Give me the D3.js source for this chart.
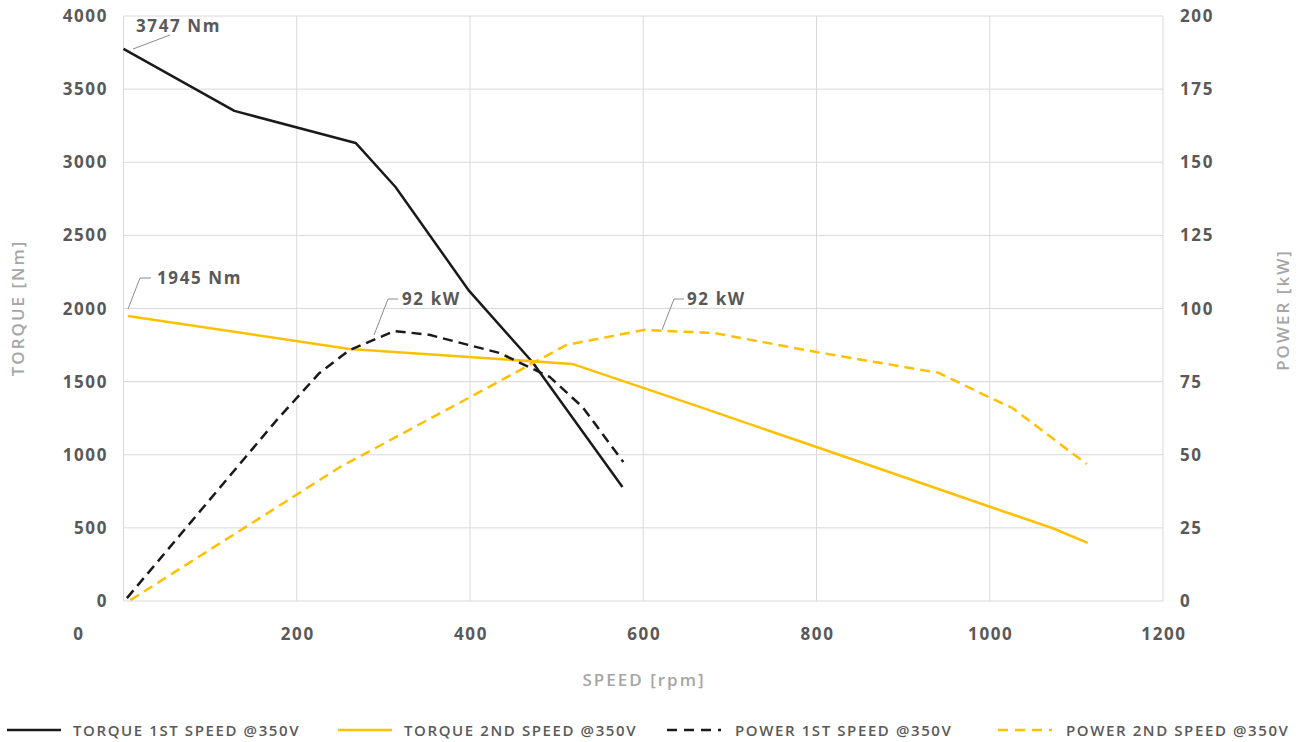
<!DOCTYPE html>
<html>
<head>
<meta charset="utf-8">
<script src="https://cdn.jsdelivr.net/npm/d3@7"></script>
<style>
  body { margin: 0; background: #fff; }
  text { font-family: "Open Sans", sans-serif; }
</style>
</head>
<body>
<div id="chart"></div>
<script>
// speed [rpm] / torque [Nm]
var torque1Speed = [0, 128, 268, 314, 399, 472, 576];
var torque1Value = [3775, 3351, 3132, 2831, 2120, 1634, 780];

var torque2Speed = [5, 261, 518, 665, 800, 1001, 1072, 1113];
var torque2Value = [1949, 1723, 1621, 1327, 1053, 643, 499, 397];

// speed [rpm] / power [kW]
var power1Speed = [4, 177, 226, 261, 313, 353, 434, 492, 530, 577];
var power1Value = [1, 61.9, 77.9, 85.8, 92.3, 91, 84.8, 76.6, 66.3, 47.5];

var power2Speed = [8, 250, 400, 511, 601, 682, 800, 941, 1001, 1026, 1112];
var power2Value = [0.3, 45.8, 69.7, 87.5, 92.7, 91.6, 85.1, 78, 69.4, 66, 46.8];

var speedTicks = [0, 200, 400, 600, 800, 1000, 1200];
var torqueTicks = [0, 500, 1000, 1500, 2000, 2500, 3000, 3500, 4000];
var powerTicks = [0, 25, 50, 75, 100, 125, 150, 175, 200];

var legendLabels = ["TORQUE 1ST SPEED @350V", "TORQUE 2ND SPEED @350V",
                    "POWER 1ST SPEED @350V", "POWER 2ND SPEED @350V"];

var W = 1305, H = 742;
var pLeft = 123.5, pRight = 1163, pTop = 16, pBottom = 601;
var BLACK = "#1a1a1a", ORANGE = "#ffc000", TICK = "#595959", TITLE = "#a6a6a6", GRID = "#d9d9d9";

var svg = d3.select("#chart").append("svg").attr("width", W).attr("height", H);

var x = d3.scaleLinear().domain([0, 1200]).range([pLeft, pRight]);
var yT = d3.scaleLinear().domain([0, 4000]).range([pBottom, pTop]);
var yP = d3.scaleLinear().domain([0, 200]).range([pBottom, pTop]);

// grid
svg.append("g").selectAll("line").data(torqueTicks).enter().append("line")
    .attr("x1", pLeft).attr("x2", pRight)
    .attr("y1", function(d){ return yT(d); }).attr("y2", function(d){ return yT(d); })
    .attr("stroke", GRID).attr("stroke-width", 1);
svg.append("g").selectAll("line").data(speedTicks).enter().append("line")
    .attr("x1", function(d){ return x(d); }).attr("x2", function(d){ return x(d); })
    .attr("y1", pTop).attr("y2", pBottom)
    .attr("stroke", GRID).attr("stroke-width", 1);

// tick labels
function tickText(sel){
  sel.attr("font-size", "17px").attr("font-weight", 700)
     .attr("letter-spacing", "1.6px").attr("fill", TICK);
}
svg.append("g").selectAll("text").data(torqueTicks).enter().append("text")
    .attr("x", 108).attr("y", function(d){ return yT(d) + 6; })
    .attr("text-anchor", "end").call(tickText)
    .text(function(d){ return d; });
svg.append("g").selectAll("text").data(powerTicks).enter().append("text")
    .attr("x", 1180).attr("y", function(d){ return yP(d) + 6; })
    .attr("text-anchor", "start").call(tickText)
    .text(function(d){ return d; });
svg.append("g").selectAll("text").data(speedTicks).enter().append("text")
    .attr("x", function(d){ return d === 0 ? 79 : x(d) + 1; }).attr("y", 640)
    .attr("text-anchor", "middle").call(tickText)
    .text(function(d){ return d; });

// axis titles
function titleText(sel){
  sel.attr("text-anchor", "middle").attr("font-size", "17px").attr("font-weight", 600)
     .attr("letter-spacing", "2px").attr("fill", TITLE);
}
svg.append("text").attr("transform", "translate(24,308) rotate(-90)")
    .call(titleText).text("TORQUE [Nm]");
svg.append("text").attr("transform", "translate(1289,310) rotate(-90)")
    .call(titleText).text("POWER [kW]");
svg.append("text").attr("x", 644).attr("y", 686)
    .call(titleText).text("SPEED [rpm]");

// series
function pairs(xs, ys){ return xs.map(function(v, i){ return [v, ys[i]]; }); }
var series = [
  { pts: pairs(torque1Speed, torque1Value), y: yT, color: BLACK, dash: null },
  { pts: pairs(torque2Speed, torque2Value), y: yT, color: ORANGE, dash: null },
  { pts: pairs(power1Speed, power1Value), y: yP, color: BLACK, dash: "10,6" },
  { pts: pairs(power2Speed, power2Value), y: yP, color: ORANGE, dash: "10,6" }
];

series.forEach(function(s){
  var line = d3.line()
      .x(function(d){ return x(d[0]); })
      .y(function(d){ return s.y(d[1]); });
  svg.append("path").datum(s.pts)
      .attr("d", line)
      .attr("fill", "none")
      .attr("stroke", s.color)
      .attr("stroke-width", 2.5)
      .attr("stroke-linejoin", "round")
      .attr("stroke-dasharray", s.dash);
});

// callouts
var callouts = [
  { pts: [[133, 49], [170, 35]], label: "3747 Nm", tx: 136, ty: 32 },
  { pts: [[128, 309], [140, 278], [151, 278]], label: "1945 Nm", tx: 157, ty: 284 },
  { pts: [[374, 335], [388, 299], [398, 299]], label: "92 kW", tx: 402, ty: 305 },
  { pts: [[662, 330], [674, 299], [684, 299]], label: "92 kW", tx: 687, ty: 305 }
];
callouts.forEach(function(c){
  svg.append("path")
      .attr("d", d3.line()(c.pts))
      .attr("fill", "none").attr("stroke", "#8c8c8c").attr("stroke-width", 1);
  svg.append("text").attr("x", c.tx).attr("y", c.ty)
      .call(tickText)
      .text(c.label);
});

// legend
var legendItems = [
  { x: 7, tx: 73, color: BLACK, dash: null },
  { x: 338, tx: 404, color: ORANGE, dash: null },
  { x: 667, tx: 735, color: BLACK, dash: "10,7" },
  { x: 998, tx: 1066, color: ORANGE, dash: "10,7" }
];
var lg = svg.append("g").selectAll("g").data(legendItems).enter().append("g");
lg.append("line")
    .attr("x1", function(d){ return d.x; }).attr("x2", function(d){ return d.x + 54; })
    .attr("y1", 730).attr("y2", 730)
    .attr("stroke", function(d){ return d.color; }).attr("stroke-width", 2.5)
    .attr("stroke-dasharray", function(d){ return d.dash; });
lg.append("text")
    .attr("x", function(d){ return d.tx; }).attr("y", 735.5)
    .attr("font-size", "15px").attr("font-weight", 600)
    .attr("letter-spacing", "1.6px").attr("fill", TICK)
    .text(function(d, i){ return legendLabels[i]; });
</script>
</body>
</html>
